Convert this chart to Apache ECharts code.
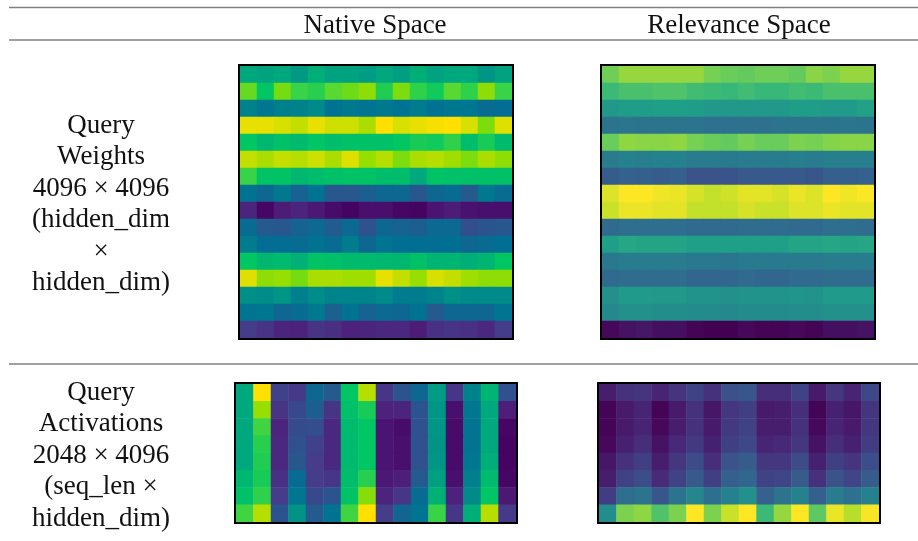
<!DOCTYPE html>
<html><head><meta charset="utf-8">
<style>html,body{margin:0;padding:0;background:#fff}#c{width:918px;height:541px;filter:blur(0.4px)}</style>
<script src="https://cdn.jsdelivr.net/npm/echarts@6/dist/echarts.min.js"></script>
</head><body><div id="c"></div>
<script>
const columnHeaders = ["Native Space", "Relevance Space"];
const weightsLabel = ["Query", "Weights", "4096 × 4096", "(hidden_dim", "×", "hidden_dim)"];
const activationsLabel = ["Query", "Activations", "2048 × 4096", "(seq_len ×", "hidden_dim)"];

const nativeWeights = [
[.60,.58,.60,.55,.62,.58,.58,.56,.60,.57,.62,.58,.60,.60,.54,.58],
[.83,.70,.85,.77,.75,.81,.84,.88,.74,.86,.76,.72,.81,.76,.88,.77],
[.47,.43,.46,.47,.50,.41,.44,.42,.44,.41,.45,.41,.43,.43,.38,.39],
[.97,.97,.95,.93,.97,.94,.94,.91,1,.95,.97,.99,1,.95,.86,.96],
[.70,.65,.68,.66,.70,.67,.68,.68,.68,.70,.73,.72,.76,.67,.73,.66],
[.93,.91,.93,.92,.94,.91,.96,.89,.92,.86,.91,.92,.90,.86,.91,.88],
[.77,.69,.69,.65,.67,.68,.69,.69,.67,.67,.60,.69,.68,.68,.68,.68],
[.41,.36,.44,.34,.41,.29,.29,.32,.36,.36,.29,.36,.38,.30,.44,.38],
[.12,.02,.09,.12,.08,.04,.01,.05,.05,.02,.01,.07,.09,.06,.05,.05],
[.38,.30,.29,.34,.37,.31,.37,.27,.36,.34,.32,.37,.37,.26,.28,.29],
[.45,.39,.39,.38,.41,.38,.45,.36,.42,.40,.40,.39,.40,.36,.38,.40],
[.70,.65,.66,.63,.69,.68,.66,.66,.65,.65,.68,.64,.64,.62,.64,.70],
[.96,.88,.89,.85,.91,.91,.90,.90,.97,.93,.89,.95,.93,.90,.88,.88],
[.52,.51,.54,.46,.51,.48,.48,.48,.50,.45,.45,.48,.52,.50,.50,.50],
[.42,.43,.36,.38,.44,.33,.41,.34,.37,.36,.41,.30,.36,.36,.36,.42],
[.20,.17,.12,.11,.17,.15,.11,.12,.13,.13,.09,.16,.17,.16,.13,.20]
];
const relevanceWeights = [
[.78,.84,.84,.84,.84,.84,.79,.77,.76,.78,.78,.76,.82,.80,.84,.84],
[.68,.71,.71,.72,.72,.69,.68,.67,.69,.67,.67,.69,.68,.71,.71,.71],
[.53,.55,.55,.56,.56,.55,.53,.53,.53,.53,.53,.55,.55,.54,.54,.57],
[.38,.39,.38,.38,.38,.38,.37,.37,.37,.37,.38,.38,.38,.38,.39,.38],
[.77,.83,.82,.82,.83,.79,.77,.76,.79,.77,.77,.80,.79,.81,.82,.82],
[.42,.44,.43,.44,.44,.42,.42,.41,.42,.42,.42,.43,.42,.43,.43,.43],
[.29,.31,.30,.29,.30,.26,.26,.26,.28,.28,.28,.28,.27,.30,.30,.31],
[.95,1,1,.98,.97,.94,.91,.93,.96,.96,.94,.97,.95,1,.98,1],
[.92,.97,.97,.96,.96,.91,.91,.91,.94,.92,.92,.95,.95,.97,.96,.96],
[.34,.36,.36,.36,.36,.34,.34,.34,.35,.35,.35,.34,.34,.36,.36,.35],
[.56,.59,.58,.58,.58,.56,.56,.56,.56,.56,.56,.58,.58,.59,.58,.59],
[.40,.42,.42,.42,.42,.40,.40,.39,.41,.41,.41,.41,.41,.42,.42,.42],
[.34,.35,.35,.35,.35,.33,.33,.33,.34,.33,.33,.34,.34,.35,.35,.35],
[.50,.54,.54,.53,.53,.51,.51,.50,.51,.51,.51,.52,.51,.54,.54,.54],
[.47,.50,.50,.49,.49,.48,.48,.47,.48,.48,.48,.49,.49,.50,.50,.50],
[.02,.05,.06,.04,.04,.01,.00,.00,.02,.01,.01,.02,.01,.04,.04,.05]
];
const nativeActivations = [
[.60,1,.22,.19,.36,.30,.70,.92,.18,.28,.36,.56,.18,.47,.64,.27],
[.60,.89,.17,.24,.32,.17,.68,.73,.11,.12,.28,.54,.05,.43,.60,.10],
[.60,.78,.12,.25,.26,.13,.66,.70,.07,.04,.27,.54,.04,.42,.60,.02],
[.60,.75,.13,.27,.22,.13,.66,.70,.07,.05,.27,.53,.04,.42,.60,.01],
[.60,.74,.13,.29,.20,.13,.66,.70,.07,.05,.27,.54,.04,.43,.62,.01],
[.65,.73,.16,.38,.20,.18,.67,.75,.08,.10,.30,.57,.05,.46,.66,.02],
[.68,.76,.20,.43,.24,.28,.69,.87,.12,.18,.38,.63,.11,.50,.70,.08],
[.78,.92,.28,.53,.30,.41,.78,1,.20,.35,.42,.77,.18,.62,.92,.19]
];
const relevanceActivations = [
[.08,.14,.15,.10,.15,.20,.14,.25,.27,.13,.13,.20,.07,.16,.10,.22],
[.01,.07,.10,.01,.07,.14,.06,.16,.19,.07,.08,.13,.01,.09,.06,.15],
[.01,.07,.10,.02,.08,.14,.07,.17,.20,.08,.08,.14,.02,.10,.07,.16],
[.02,.09,.13,.05,.11,.17,.09,.19,.22,.10,.11,.16,.05,.13,.09,.18],
[.06,.14,.19,.08,.16,.23,.13,.26,.29,.16,.16,.23,.09,.19,.15,.24],
[.08,.20,.24,.12,.20,.28,.19,.30,.33,.20,.21,.29,.14,.26,.21,.29],
[.18,.36,.38,.27,.38,.46,.36,.44,.50,.31,.38,.44,.30,.42,.37,.44],
[.49,.80,.83,.72,.80,1,.80,.92,1,.68,.84,1,.75,.97,.89,.99]
];

const vividRamp = ["#44005f","#480f6c","#4d1f7a","#492e82","#453c8a","#354b8c","#255a8f","#126591","#006f93","#007c8e","#008a8a","#009984","#00a87e","#00b770","#00c663","#28cf4e","#50d83a","#74dc10","#a0de00","#d8e000","#ffe000"];
const viridisRamp = ["#440154","#482878","#3e4989","#31688e","#26828e","#1f9e89","#35b779","#6ece58","#b5de2b","#fde725"];

const panels = [
  {values: nativeWeights,        box: [240,66,272,272], ramp: vividRamp},
  {values: relevanceWeights,     box: [602,66,272,272], ramp: viridisRamp},
  {values: nativeActivations,    box: [236,384,280,138], ramp: vividRamp},
  {values: relevanceActivations, box: [599,384,280,138], ramp: viridisRamp}
];

const serif = '"Liberation Serif","Times New Roman",serif';
const FS = 27, LH = 31.4;

function textEl(s, cx, cy){
  return {type:'text', z:20, style:{text:s, x:cx, y:cy, align:'center', verticalAlign:'middle',
    font:FS+'px '+serif, fill:'#111'}};
}
function rule(y, x1){
  return {type:'line', z:20, shape:{x1:x1, y1:y, x2:918, y2:y}, style:{stroke:'#808080', lineWidth:1.5}};
}

const graphics = [rule(7.5,9), rule(40,9), rule(364,9)];
graphics.push(textEl(columnHeaders[0],375,26), textEl(columnHeaders[1],739,26));
weightsLabel.forEach((s,i)=>graphics.push(textEl(s,101,126+i*LH)));
activationsLabel.forEach((s,i)=>graphics.push(textEl(s,101,393+i*LH)));
panels.forEach(p=>{
  const [x,y,w,h]=p.box;
  graphics.push({type:'rect', z:30, shape:{x:x-1,y:y-1,width:w+2,height:h+2},
    style:{fill:'none',stroke:'#000',lineWidth:2}});
});

const idx = n => Array.from({length:n},(_,i)=>String(i));
const hideAxis = {axisLine:{show:false},axisTick:{show:false},axisLabel:{show:false},splitLine:{show:false},splitArea:{show:false}};

const option = {
  animation:false, backgroundColor:'#fff',
  grid: panels.map(p=>({left:p.box[0],top:p.box[1],width:p.box[2],height:p.box[3],containLabel:false})),
  xAxis: panels.map((p,i)=>Object.assign({type:'category',gridIndex:i,data:idx(p.values[0].length)},hideAxis)),
  yAxis: panels.map((p,i)=>Object.assign({type:'category',gridIndex:i,inverse:true,data:idx(p.values.length)},hideAxis)),
  visualMap: panels.map((p,i)=>({type:'continuous',show:false,min:0,max:1,seriesIndex:i,inRange:{color:p.ramp}})),
  series: panels.map((p,i)=>({
    type:'heatmap',xAxisIndex:i,yAxisIndex:i,
    data:p.values.flatMap((r,ry)=>r.map((v,cx)=>[cx,ry,v])),
    itemStyle:{borderWidth:0},
    emphasis:{disabled:true}
  })),
  graphic: graphics
};
echarts.init(document.getElementById('c'),null,{renderer:'canvas'}).setOption(option);
</script></body></html>
